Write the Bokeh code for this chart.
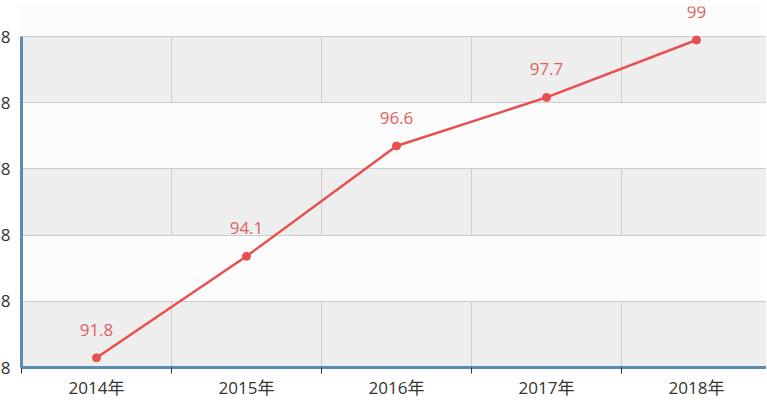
from bokeh.plotting import figure
from bokeh.models import ColumnDataSource, FixedTicker, LabelSet, Range1d
from bokeh.core.properties import value
from bokeh.embed import file_html
from bokeh.resources import INLINE

years = ["2014年", "2015年", "2016年", "2017年", "2018年"]
rates = [91.8, 94.1, 96.6, 97.7, 99.0]
rate_labels = ["91.8", "94.1", "96.6", "97.7", "99"]
y_ticks = [91.58, 93.08, 94.58, 96.08, 97.58, 99.08]
y_tick_labels = ["91.58", "93.08", "94.58", "96.08", "97.58", "99.08"]

xs = list(range(len(years)))
src = ColumnDataSource(dict(x=xs, y=rates, t=rate_labels))

FONT = "'Open Sans', 'Noto Sans CJK SC'"
FRAME_W = 745
GRID_H = 331
EXTRA_TOP = 30
units_per_px = (y_ticks[-1] - y_ticks[0]) / GRID_H

p = figure(
    frame_width=FRAME_W, frame_height=GRID_H + EXTRA_TOP,
    x_range=Range1d(-0.5, -0.5 + FRAME_W / 150.0),
    y_range=Range1d(y_ticks[0], y_ticks[-1] + EXTRA_TOP * units_per_px),
    output_backend="svg", toolbar_location=None,
    min_border_left=60, min_border_right=0, min_border_top=26, min_border_bottom=30,
)
p.margin = (-20, 0, 0, -39)
p.outline_line_color = None
p.background_fill_color = "#eeeeee"
p.border_fill_color = "white"

# x axis
p.xaxis.ticker = FixedTicker(ticks=xs, minor_ticks=[i - 0.5 for i in range(len(years) + 1)])
p.xaxis.major_label_overrides = {i: y for i, y in enumerate(years)}
p.xaxis.major_tick_line_color = None
p.xaxis.major_tick_out = 0
p.xaxis.major_tick_in = 0
p.xaxis.minor_tick_line_color = "#333333"
p.xaxis.minor_tick_out = 6
p.xaxis.minor_tick_in = 0
p.xaxis.major_label_standoff = 2
p.xaxis.axis_line_color = "#5b8db0"
p.xaxis.axis_line_width = 3
p.xaxis.major_label_text_font = FONT
p.xaxis.major_label_text_font_size = "17px"
p.xaxis.major_label_text_color = "#333333"

# y axis
p.yaxis.ticker = FixedTicker(ticks=y_ticks)
p.yaxis.bounds = (y_ticks[0], y_ticks[-1])
p.yaxis.major_label_overrides = {t: l for t, l in zip(y_ticks, y_tick_labels)}
p.yaxis.major_tick_line_color = None
p.yaxis.minor_tick_line_color = None
p.yaxis.major_tick_out = 0
p.yaxis.major_label_standoff = 11
p.yaxis.axis_line_color = "#5b8db0"
p.yaxis.axis_line_width = 3
p.yaxis.major_label_text_font = FONT
p.yaxis.major_label_text_font_size = "17px"
p.yaxis.major_label_text_color = "#333333"

# grids
p.xgrid.ticker = FixedTicker(ticks=[i + 0.5 for i in range(len(years) - 1)])
p.xgrid.bounds = (y_ticks[0], y_ticks[-1])
p.xgrid.grid_line_color = "#cccccc"
p.ygrid.ticker = FixedTicker(ticks=y_ticks)
p.ygrid.grid_line_color = "#cccccc"
p.ygrid.band_fill_color = "#fcfcfc"
p.ygrid.band_fill_alpha = 1.0

p.line("x", "y", source=src, line_color="#e8504f", line_width=2.5)
p.scatter("x", "y", source=src, size=8, fill_color="#e8504f", line_color="#e8504f")

labels = LabelSet(x="x", y="y", text="t", source=src, y_offset=28,
                  text_align="center", text_baseline="middle",
                  text_font=value(FONT), text_font_size="17px", text_color="#e0605f")
p.add_layout(labels)

open("out.html", "w").write(file_html(p, INLINE))
